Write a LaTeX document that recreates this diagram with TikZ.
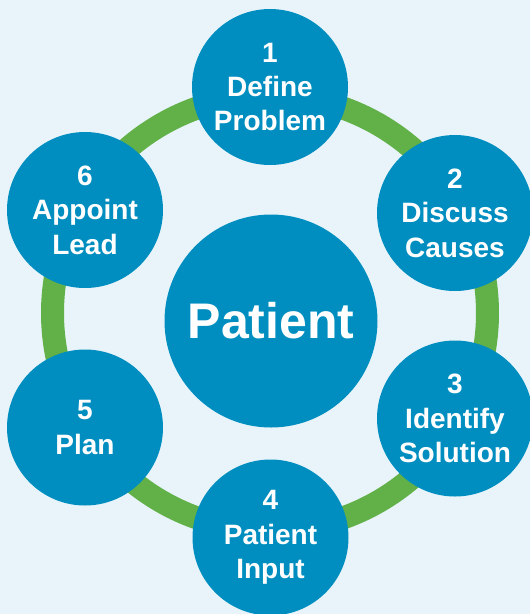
\documentclass[tikz,border=0pt]{standalone}
\usepackage{fontspec}
\setmainfont{Liberation Sans}

\definecolor{azulpaso}{RGB}{0,142,192}
\definecolor{verdeanillo}{RGB}{97,177,72}
\definecolor{fondo}{RGB}{232,244,250}

\begin{document}
\begin{tikzpicture}[x=1pt, y=-1pt,
	paso/.style={circle, fill=azulpaso, minimum size=156pt, inner sep=0pt, text=white,
		align=center, font=\fontsize{28}{34.5}\selectfont\bfseries}]
			% Dibujar el fondo
			\useasboundingbox (0,0) rectangle (530,614);
			\fill[fondo] (0,0) rectangle (530,614);

			% Dibujar el anillo
			\draw[verdeanillo, line width=23pt] (270,313) circle (217.5pt);

			% Dibujar el circulo central
			\node[paso, minimum size=213pt, font=\fontsize{50}{60}\selectfont\bfseries] (paciente) at (271,321) {Patient};

			% Dibujar los pasos
			\node[paso] (paso1) at (270,87) {1\\Define\\Problem};
			\node[paso] (paso2) at (455,213) {2\\Discuss\\Causes};
			\node[paso] (paso3) at (455,418.5) {3\\Identify\\Solution};
			\node[paso] (paso4) at (270.5,537.5) {4\\Patient\\Input};
			\node[paso] (paso5) at (85,427.5) {5\\Plan};
			\node[paso] (paso6) at (85,210) {6\\Appoint\\Lead};
		\end{tikzpicture}
\end{document}
